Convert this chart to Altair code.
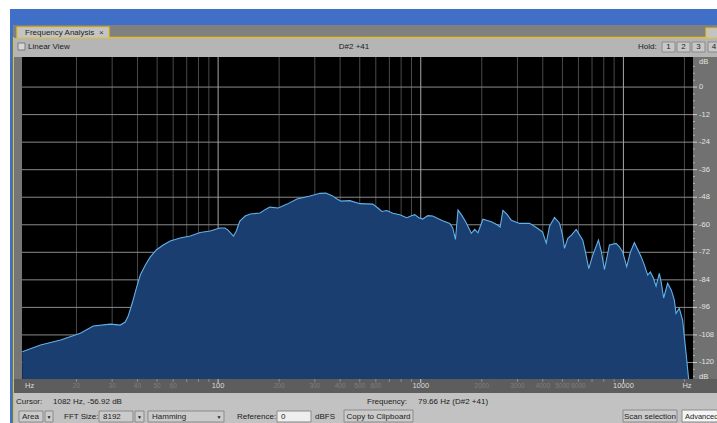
import altair as alt
import pandas as pd

# ---- spectrum values ----
freq_hz = [10.8, 13.3, 16.7, 20.9, 24.2, 29.4, 32.9, 34.8, 36.0, 37.7,
           39.5, 41.3, 43.7, 46.2, 49.5, 53.6, 58.0, 65.0, 72.8, 81.5,
           91.3, 102, 108, 112, 119, 123, 128, 136, 144, 161,
           172, 180, 198, 219, 245, 284, 318, 340, 365, 386,
           404, 447, 501, 580, 614, 643, 680, 728, 788, 853,
           893, 934, 978, 1023, 1083, 1146, 1213, 1283, 1390, 1438,
           1483, 1527, 1592, 1666, 1777, 1845, 1915, 2027, 2230, 2394,
           2464, 2543, 2652, 2798, 3074, 3443, 3783, 3990, 4161, 4320,
           4573, 4839, 5006, 5121, 5316, 5544, 5848, 6302, 6498, 6745,
           7061, 7531, 7792, 8061, 8532, 9204, 9557, 9921, 10383, 10828,
           11330, 12227, 12692, 13175, 13583, 14055, 14491, 15041, 15388, 15794,
           16527, 17238, 17831, 18180, 18875, 19594, 20370, 21024]
level_db = [-115.3, -112.4, -110.2, -107.3, -104.1, -103.3, -103.7, -102.4, -99.8, -94.1,
            -87.6, -81.9, -77.6, -74.1, -71.0, -68.8, -67.1, -65.8, -64.9, -63.4,
            -62.7, -61.4, -61.4, -62.3, -64.9, -62.7, -58.4, -56.2, -55.3, -54.9,
            -53.2, -52.3, -52.7, -51.0, -48.8, -47.5, -46.3, -46.2, -47.3, -48.8,
            -49.7, -49.5, -50.8, -51.0, -52.7, -54.2, -53.8, -55.0, -55.6, -56.9,
            -56.2, -55.6, -56.9, -57.5, -56.0, -56.2, -57.3, -58.2, -59.4, -61.4,
            -66.4, -53.6, -55.8, -58.7, -63.7, -62.0, -63.5, -57.6, -58.7, -60.1,
            -61.0, -53.7, -55.3, -58.0, -59.4, -59.4, -61.6, -63.2, -68.0, -60.6,
            -56.8, -59.3, -64.5, -70.3, -65.9, -64.5, -62.0, -66.7, -71.9, -79.1,
            -73.2, -66.7, -71.9, -79.5, -68.8, -68.1, -69.6, -71.9, -78.2, -71.9,
            -67.8, -73.9, -77.6, -81.9, -80.6, -83.2, -86.7, -81.2, -85.4, -91.9,
            -85.5, -88.5, -92.8, -98.6, -96.4, -101.5, -115.9, -128.0]

minor_grid_hz = [20, 30, 40, 50, 60, 70, 80, 90,
                 200, 300, 400, 500, 600, 700, 800, 900,
                 2000, 3000, 4000, 5000, 6000, 7000, 8000, 9000, 20000]
minor_label_hz = [20, 30, 40, 50, 60, 200, 300, 400, 500, 600, 2000, 3000, 4000, 5000, 6000]
major_grid_hz = [100, 1000, 10000]
db_grid = [0, -12, -24, -36, -48, -60, -72, -84, -96, -108, -120]
db_minor_ticks = [9, 6, 3, -3, -6, -9, -15, -18, -21, -27, -30, -33, -39, -42, -45,
                  -51, -54, -57, -63, -66, -69, -75, -78, -81, -87, -90, -93,
                  -99, -102, -105, -111, -114, -117, -123, -126]
freq_domain = [10.77, 22050]
db_domain = [-127.2, 13.1]
DB_FLOOR = -127.2

# ---- layout ----
W, H = 671, 322
OX, OY = 22, 57
FONT = "Liberation Sans"
one = pd.DataFrame({"k": [0]})


def rect(x1, y1, x2, y2, fill, stroke=None, sw=1.0):
    kw = dict(fill=fill)
    if stroke:
        kw.update(stroke=stroke, strokeWidth=sw)
    return alt.Chart(one).mark_rect(**kw).encode(
        x=alt.value(x1 - OX), x2=alt.value(x2 - OX),
        y=alt.value(y1 - OY), y2=alt.value(y2 - OY))


def hline(x1, x2, y, color, sw=1.0):
    return alt.Chart(one).mark_rule(color=color, strokeWidth=sw).encode(
        x=alt.value(x1 - OX), x2=alt.value(x2 - OX), y=alt.value(y - OY))


def vline(x, y1, y2, color, sw=1.0):
    return alt.Chart(one).mark_rule(color=color, strokeWidth=sw).encode(
        x=alt.value(x - OX), y=alt.value(y1 - OY), y2=alt.value(y2 - OY))


def label(txt, x, y, size=8, color="#1c1c1c", align="left"):
    return alt.Chart(one).mark_text(
        text=txt, font=FONT, fontSize=size, color=color, align=align,
        baseline="middle").encode(x=alt.value(x - OX), y=alt.value(y - OY))


xs = alt.Scale(type="log", domain=freq_domain, nice=False)
ys = alt.Scale(domain=db_domain, nice=False, zero=False)

spec = pd.DataFrame({"freq": freq_hz, "db": level_db,
                     "floor": [DB_FLOOR] * len(freq_hz)})
minor = pd.DataFrame({"freq": minor_grid_hz})
minor_lab = pd.DataFrame({"freq": minor_label_hz, "lab": [str(v) for v in minor_label_hz]})
major = pd.DataFrame({"freq": major_grid_hz, "lab": [str(v) for v in major_grid_hz]})
hgrid = pd.DataFrame({"db": db_grid, "lab": [str(v) for v in db_grid]})
dbminor = pd.DataFrame({"db": db_minor_ticks})

X = alt.X("freq:Q", scale=xs, axis=None)
Y = alt.Y("db:Q", scale=ys, axis=None)

YELLOW = "#e2c12e"
layers = [
    # window chrome
    rect(10, 9, 717, 423, "#3f6fc6"),
    rect(13, 25, 717, 423, "#808080"),
    rect(13, 38, 717, 423, "#b5b5b5"),
    rect(13, 393, 717, 423, "#c2c2c2"),
    rect(17, 27, 109, 38, "#c4c4c4", YELLOW, 1.2),
    rect(706, 28, 720, 38, "#c4c4c4", YELLOW, 1.2),
    hline(109, 706, 37.5, YELLOW, 1.5),
    vline(13.5, 37, 423, YELLOW, 1.2),
    label("Frequency Analysis", 25, 32.5, 8),
    label("×", 99, 32.5, 8, "#333333"),
    rect(18, 43, 25, 50, "#d6d6d6", "#7a7a7a"),
    label("Linear View", 28, 47, 8),
    label("D#2 +41", 354, 47, 8, align="center"),
    label("Hold:", 638, 47, 8),
    rect(662, 42, 675, 52, "#c8c8c8", "#8a8a8a"),
    rect(677, 42, 690, 52, "#c8c8c8", "#8a8a8a"),
    rect(692, 42, 705, 52, "#c8c8c8", "#8a8a8a"),
    rect(708, 42, 721, 52, "#c8c8c8", "#8a8a8a"),
    label("1", 668.5, 47, 8, align="center"),
    label("2", 683.5, 47, 8, align="center"),
    label("3", 698.5, 47, 8, align="center"),
    label("4", 714, 47, 8, align="center"),
    # plot frame
    rect(14, 57, 22, 393, "#767676"),
    rect(22, 57, 693, 379, "#000000"),
    rect(693, 57, 717, 379, "#717171"),
    rect(14, 379, 717, 393, "#5d5d5d"),
    # grid
    alt.Chart(minor).mark_rule(color="#4a4a4a", strokeWidth=1).encode(x=X),
    alt.Chart(hgrid).mark_rule(color="#8a8a8a", strokeWidth=1).encode(y=Y),
    alt.Chart(major).mark_rule(color="#a8a8a8", strokeWidth=1).encode(x=X),
    # spectrum
    alt.Chart(spec).mark_area(color="#1a3e6f", clip=True).encode(
        x=X, y=Y, y2="floor:Q"),
    alt.Chart(spec).mark_line(color="#62b2ea", strokeWidth=1.1, clip=True).encode(
        x=X, y=Y),
    # x strip ticks and labels
    alt.Chart(minor).mark_rule(color="#8c8c8c").encode(
        x=X, y=alt.value(H), y2=alt.value(H + 3)),
    alt.Chart(major).mark_rule(color="#cfcfcf").encode(
        x=X, y=alt.value(H), y2=alt.value(H + 4)),
    alt.Chart(minor_lab).mark_text(font=FONT, fontSize=6.5, color="#7e7e7e",
                                   baseline="middle").encode(
        x=X, y=alt.value(386 - OY), text="lab:N"),
    alt.Chart(major).mark_text(font=FONT, fontSize=7.5, color="#dcdcdc",
                               baseline="middle").encode(
        x=X, y=alt.value(386 - OY), text="lab:N"),
    label("Hz", 25, 386, 7.5, "#dcdcdc"),
    label("Hz", 687, 386, 7.5, "#dcdcdc", align="center"),
    # right strip ticks and labels
    alt.Chart(dbminor).mark_rule(color="#b0b0b0").encode(
        y=Y, x=alt.value(W), x2=alt.value(W + 2)),
    alt.Chart(hgrid).mark_rule(color="#d0d0d0").encode(
        y=Y, x=alt.value(W), x2=alt.value(W + 4)),
    alt.Chart(hgrid).mark_text(font=FONT, fontSize=7.5, color="#e2e2e2",
                               align="left", baseline="middle").encode(
        y=Y, x=alt.value(699 - OX), text="lab:N"),
    label("dB", 699, 62, 7.5, "#e2e2e2"),
    label("dB", 699, 377, 7.5, "#e2e2e2"),
    # status rows
    label("Cursor:", 16, 402, 8),
    label("1082 Hz, -56.92 dB", 53, 402, 8),
    label("Frequency:", 367, 402, 8),
    label("79.66 Hz (D#2 +41)", 418, 402, 8),
    rect(19, 411, 43, 422, "#cbcbcb", "#8a8a8a"),
    label("Area", 22, 416.5, 8),
    rect(45, 411, 53, 422, "#cbcbcb", "#8a8a8a"),
    label("▼", 49, 416.5, 5, align="center"),
    label("FFT Size:", 64, 416.5, 8),
    rect(99, 411, 133, 422, "#cbcbcb", "#8a8a8a"),
    label("8192", 103, 416.5, 8),
    rect(135, 411, 144, 422, "#cbcbcb", "#8a8a8a"),
    label("▼", 139.5, 416.5, 5, align="center"),
    rect(148, 411, 224, 422, "#cbcbcb", "#8a8a8a"),
    label("Hamming", 152, 416.5, 8),
    label("▼", 219, 416.5, 5, align="center"),
    label("Reference:", 237, 416.5, 8),
    rect(277, 411, 311, 422, "#eeeeee", "#8a8a8a"),
    label("0", 281, 416.5, 8),
    label("dBFS", 315, 416.5, 8),
    rect(344, 410, 413, 422, "#cbcbcb", "#8a8a8a"),
    label("Copy to Clipboard", 378.5, 416.5, 8, align="center"),
    rect(623, 410, 677, 422, "#cbcbcb", "#8a8a8a"),
    label("Scan selection", 650, 416.5, 8, align="center"),
    rect(682, 410, 722, 422, "#f4f4f4", "#8a8a8a"),
    label("Advanced", 685, 416.5, 7.5),
]

chart = alt.layer(*layers).properties(
    width=W, height=H,
    autosize=alt.AutoSizeParams(type="none"),
    padding={"left": OX, "top": OY, "right": 717 - OX - W, "bottom": 423 - OY - H},
    background="white",
).configure_view(stroke=None)

chart.save("out.html", embed_options={"renderer": "svg", "actions": False})
